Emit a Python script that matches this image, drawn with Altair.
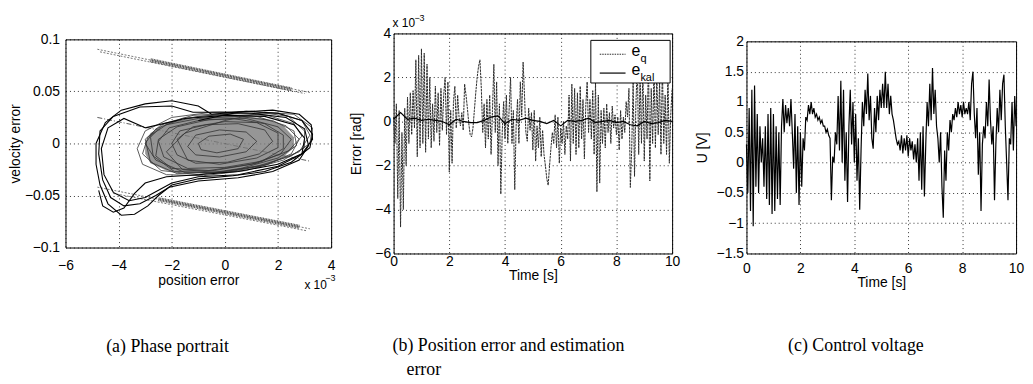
import altair as alt
import pandas as pd

# ---------------- data ----------------
# (a) Phase portrait: position error in units of 1e-3 rad, velocity error in rad/s
OUTER_LOOPS = [
    [(-0.5, 0.028), (-1.0, 0.036), (-2.0, 0.041), (-3.0, 0.038), (-3.9, 0.032), (-4.5, 0.020),
     (-4.85, 0.000), (-4.85, -0.020), (-4.7, -0.040), (-4.4, -0.058), (-3.9, -0.069), (-3.4, -0.068),
     (-2.9, -0.060), (-2.5, -0.050), (-2.0, -0.040), (-1.0, -0.034), (0.3, -0.031), (1.5, -0.027),
     (2.5, -0.018), (3.2, -0.004), (3.3, 0.009), (2.9, 0.022), (2.0, 0.029), (0.8, 0.031), (-0.5, 0.028)],
    [(-1.2, 0.030), (-2.0, 0.036), (-3.2, 0.035), (-4.2, 0.026), (-4.7, 0.012), (-4.75, -0.010),
     (-4.6, -0.035), (-4.3, -0.052), (-3.8, -0.060), (-3.2, -0.058), (-2.6, -0.050), (-2.1, -0.042),
     (-1.0, -0.036), (0.5, -0.033), (1.8, -0.027), (2.8, -0.016), (3.15, -0.002), (3.0, 0.014),
     (2.3, 0.025), (1.0, 0.029), (-0.2, 0.030), (-1.2, 0.030)],
    [(-3.0, 0.015), (-3.8, 0.024), (-4.4, 0.015), (-4.65, -0.005), (-4.55, -0.030), (-4.2, -0.047),
     (-3.6, -0.055), (-3.0, -0.052), (-2.5, -0.045), (-2.0, -0.038), (-1.0, -0.032), (0.5, -0.030),
     (2.0, -0.022), (2.9, -0.010), (3.0, 0.005), (2.6, 0.018), (1.5, 0.026), (0.0, 0.027),
     (-1.5, 0.024), (-3.0, 0.015)],
    [(-1.0, 0.022), (0.5, 0.030), (1.8, 0.032), (2.8, 0.028), (3.25, 0.018), (3.3, 0.004),
     (2.9, -0.010), (2.0, -0.020), (0.5, -0.027), (-1.0, -0.030), (-2.2, -0.032), (-3.0, -0.038),
     (-3.4, -0.048), (-3.8, -0.062), (-4.2, -0.066), (-4.6, -0.060), (-4.75, -0.045)],
]

INNER_LOOPS = [
    [(-3.0, 0.000), (-2.6, 0.014), (-1.6, 0.024), (-0.2, 0.028), (1.2, 0.026), (2.3, 0.017), (2.8, 0.004),
     (2.5, -0.010), (1.5, -0.021), (0.0, -0.028), (-1.5, -0.028), (-2.6, -0.016), (-3.0, 0.000)],
    [(-2.5, 0.002), (-2.1, 0.015), (-1.0, 0.022), (0.3, 0.024), (1.5, 0.019), (2.2, 0.008), (2.2, -0.005),
     (1.4, -0.017), (0.0, -0.023), (-1.4, -0.024), (-2.3, -0.013), (-2.5, 0.002)],
    [(-3.3, -0.005), (-3.0, 0.012), (-2.0, 0.025), (-0.5, 0.030), (1.0, 0.031), (2.4, 0.026), (3.0, 0.012),
     (3.0, -0.004), (2.2, -0.016), (0.8, -0.026), (-0.8, -0.031), (-2.2, -0.030), (-3.1, -0.020), (-3.3, -0.005)],
    [(-2.0, 0.000), (-1.7, 0.012), (-0.7, 0.018), (0.5, 0.019), (1.5, 0.013), (1.8, 0.002), (1.3, -0.010),
     (0.1, -0.018), (-1.1, -0.019), (-1.8, -0.011), (-2.0, 0.000)],
    [(-1.4, -0.003), (-1.1, 0.008), (-0.2, 0.013), (0.8, 0.011), (1.2, 0.002), (0.8, -0.008), (-0.2, -0.013),
     (-1.1, -0.011), (-1.4, -0.003)],
    [(-2.8, 0.006), (-2.3, 0.019), (-1.2, 0.027), (0.2, 0.029), (1.6, 0.027), (2.6, 0.019), (2.9, 0.007),
     (2.4, -0.007), (1.2, -0.019), (-0.4, -0.026), (-1.9, -0.027), (-2.7, -0.012), (-2.8, 0.006)],
    [(-2.2, -0.008), (-1.5, 0.010), (0.0, 0.022), (1.5, 0.030), (2.6, 0.028), (3.3, 0.015), (3.2, 0.000),
     (2.5, -0.012), (1.2, -0.022), (-0.3, -0.028), (-1.6, -0.025), (-2.2, -0.008)],
    [(-3.1, -0.010), (-2.9, 0.006), (-2.2, 0.018), (-1.0, 0.024), (0.5, 0.026), (1.8, 0.022), (2.6, 0.012),
     (2.7, -0.002), (2.0, -0.014), (0.6, -0.024), (-1.0, -0.030), (-2.4, -0.026), (-3.1, -0.010)],
    [(-1.8, 0.004), (-1.2, 0.016), (0.0, 0.021), (1.2, 0.020), (2.0, 0.010), (2.0, -0.004), (1.2, -0.014),
     (-0.2, -0.020), (-1.4, -0.016), (-1.8, 0.004)],
    [(-2.6, -0.012), (-2.5, 0.004), (-1.8, 0.016), (-0.6, 0.023), (0.8, 0.024), (2.0, 0.016), (2.5, 0.004),
     (2.1, -0.010), (1.0, -0.020), (-0.6, -0.026), (-2.0, -0.024), (-2.6, -0.012)],
    [(-1.0, 0.000), (-0.6, 0.007), (0.2, 0.009), (0.7, 0.004), (0.5, -0.005), (-0.3, -0.009), (-0.9, -0.006),
     (-1.0, 0.000)],
    [(-3.0, 0.004), (-2.4, 0.018), (-1.0, 0.026), (0.6, 0.029), (2.0, 0.029), (2.9, 0.022), (3.2, 0.008),
     (2.8, -0.008), (1.6, -0.020), (0.0, -0.027), (-1.8, -0.029), (-2.8, -0.018), (-3.0, 0.004)],
]

# dense core of the trajectory: x, upper and lower edge
CORE_X = [-3.0, -2.8, -2.2, -1.5, -0.5, 0.5, 1.5, 2.2, 2.6]
CORE_HI = [0.000, 0.010, 0.019, 0.023, 0.026, 0.027, 0.024, 0.017, 0.006]
CORE_LO = [-0.010, -0.019, -0.026, -0.028, -0.029, -0.027, -0.021, -0.013, -0.004]

# boundary bands (thick hatched part and thin dotted extensions)
BAND_CORE = [
    [(-2.8, 0.0800), (2.5, 0.0520)],
    [(-2.5, -0.0535), (2.8, -0.0800)],
]
BAND_EDGE = [
    [(-4.8, 0.0905), (3.2, 0.0490)],
    [(-4.7, 0.0880), (3.0, 0.0480)],
    [(-4.8, -0.0420), (3.2, -0.0820)],
    [(-4.2, -0.0480), (3.1, -0.0840)],
]
MID_LINE = [[(-4.8, 0.025), (3.2, -0.017)]]

# (b) position error e_q and estimation error e_kal (units of 1e-3 rad), 0..10 s
EQ = [
    0.2, -1.0, 0.8, -3.5, 0.5, -4.8, -0.5, -4.0, 0.6, -2.0,
    1.1, -1.0, 1.3, -0.6, 1.4, -0.3, 2.8, -1.6, 3.0, -1.2,
    3.3, -1.0, 3.1, -1.4, 2.6, -0.8, 2.0, -1.2, 0.8, -0.9,
    1.6, -0.5, 1.3, -1.1, 1.5, -0.4, 1.2, 2.0, -0.6, 1.8,
    -2.3, 0.5, -1.9, 0.9, 1.6, -0.3, 1.2, 0.2, -0.2, 0.4,
    -0.4, 1.7, 1.2, 0.6, -0.1, -0.6, -0.7, -0.3, 0.5, 1.3,
    2.0, 2.5, 2.8, 1.5, -0.5, 0.8, -1.2, 1.0, -0.8, 1.2,
    -1.5, 0.5, 2.6, -0.5, 1.8, -2.0, 0.8, -3.3, -0.5, 0.9,
    -0.8, 1.2, -1.0, 0.6, 2.0, -1.0, 0.5, -3.1, -0.2, 1.0,
    -1.0, 1.8, 0.2, 2.7, 1.2, -0.5, -0.9, 0.6, -0.4, 0.4,
    -1.3, 0.5, -1.8, -0.2, -1.2, 0.2, -1.6, -0.4, -1.5, -2.0,
    -2.6, -2.9, -2.0, -1.2, -0.5, -1.0, 0.3, -1.2, 0.2, -1.9,
    -0.3, -1.0, 0.0, -1.5, -0.2, -0.8, 1.2, -1.8, 1.7, -1.0,
    1.5, -1.5, 1.3, -1.2, 1.6, -0.8, 1.0, -1.7, 0.7, 1.8,
    -0.5, 1.0, -0.8, 1.4, -1.5, 1.8, -3.2, 1.2, -2.8, 0.5,
    -1.0, 0.6, -1.2, 0.8, -0.5, 0.4, -1.0, 0.7, -0.3, 0.3,
    -0.6, 0.2, -1.3, 0.5, -0.8, 0.2, -0.5, 0.9, 0.2, 1.5,
    -3.0, -1.2, 1.8, -2.5, 0.8, 2.6, -1.5, 2.2, -1.0, 2.5,
    -1.8, 1.2, -0.8, 2.8, -2.7, 1.5, -1.0, 2.5, -1.2, 2.2,
    -0.6, 1.8, -1.5, 2.5, -1.0, 1.2, -1.5, 2.3, -1.9, 0.3,
    1.5,
]
EKAL = [
    0.1, 0.4, 0.1, 0.15, 0.05, 0.1, 0.05, 0.0, -0.15, 0.1,
    0.0, -0.05, -0.05, 0.05, 0.2, 0.25, -0.1, 0.1, 0.05, 0.15,
    0.05, 0.0, -0.1, 0.05, -0.2, 0.05, 0.0, 0.05, 0.15, -0.05,
    0.0, 0.05, -0.05, 0.0, -0.15, -0.2, 0.0, -0.1, -0.05, 0.05,
    0.0,
]

# (c) control voltage U [V], 0..10 s
U = [
    0.3, -0.5, 0.9, -0.8, 1.2, -1.05, 1.27, -0.4, 0.8, -0.5,
    0.6, 0.0, 0.4, -0.4, 0.6, -0.6, 0.8, -0.7, 0.9, -0.85,
    0.8, -0.8, 0.6, -0.6, 0.5, -0.7, 0.6, 1.05, 0.5, 0.95,
    0.65, 0.9, 0.6, 1.05, 0.5, -0.1, 0.8, -0.5, 0.6, -0.7,
    0.5, -0.4, 0.4, 0.2, 0.75, 0.7, 0.95, 0.8, 1.0, 0.8,
    0.9, 0.75, 0.8, 0.7, 0.75, 0.65, 0.7, 0.6, 0.6, 0.5,
    0.55, 0.45, 0.4, -0.62, 0.1, 0.0, 0.5, 0.3, 1.1, 0.2,
    1.35, 0.0, 1.2, -0.3, 0.5, -0.65, 0.6, 1.2, 0.3, 1.0,
    0.0, 0.8, -0.3, 0.4, -0.78, 0.2, 1.0, 0.6, 1.2, 0.8,
    1.47, 0.7, 1.1, 0.4, 0.23, 0.9, 0.5, 1.1, 0.7, 1.2,
    0.9, 1.3, 0.9, 1.5, 0.9, 1.3, 0.8, 1.1, 0.8, 0.7,
    0.55, 0.4, 0.3, 0.35, 0.2, 0.45, 0.15, 0.4, 0.2, 0.45,
    0.1, 0.4, 0.2, 0.35, 0.05, 0.3, 0.0, 0.4, -0.3, 0.5,
    -0.45, 0.6, -0.56, 0.3, 1.0, 0.6, 1.3, 0.7, 1.56, 0.8,
    1.2, 0.6, 0.4, 0.0, 0.5, -0.4, -0.91, 0.2, -0.3, 0.5,
    0.2, 0.7, 0.5, 0.8, 0.7, 0.9, 0.75, 1.0, 0.8, 0.95,
    0.75, 1.0, 0.8, 0.9, 0.8, 1.0, 0.7, 1.3, 1.5, 0.8,
    0.4, 0.9, -0.2, 0.5, -0.8, 0.3, 0.6, 0.4, 1.0, 0.6,
    1.37, 0.7, 0.3, 0.6, -0.62, 0.3, 0.9, 0.5, 1.2, 0.7,
    1.3, 1.45, 0.6, 0.0, -0.62, 0.4, 0.3, 1.0, 0.2, 1.1,
    0.6,
]
T_END = 10.0

CAPTIONS = ["(a) Phase portrait", "(b) Position error and estimation", "error", "(c) Control voltage"]

# ---------------- helpers ----------------
FONT = "Liberation Sans"
SERIF = "Liberation Serif"


def loops_df(loops, prefix):
    rows = []
    for k, pts in enumerate(loops):
        for i, (x, y) in enumerate(pts):
            rows.append({"x": x, "y": y, "id": f"{prefix}{k}", "ord": i})
    return pd.DataFrame(rows)


def series_df(vals):
    n = len(vals)
    return pd.DataFrame({"t": [T_END * i / (n - 1) for i in range(n)], "v": vals})


def text(txt, x, y, size, font=FONT, color="black"):
    return alt.Chart(pd.DataFrame({"txt": [txt]})).mark_text(
        font=font, fontSize=size, align="left", baseline="middle", color=color
    ).encode(x=alt.value(x), y=alt.value(y), text="txt:N")


def spacer(w, h):
    return alt.Chart(pd.DataFrame({"k": [0]})).mark_point(opacity=0, size=1).encode(
        x=alt.value(10), y=alt.value(h / 2)
    ).properties(width=w, height=h, view=alt.ViewBackground(stroke="transparent"))


# ---------------- panel (a) ----------------
WA, HA = 268, 210
A_YAXIS = dict(title="velocity error", values=[-0.1, -0.05, 0, 0.05, 0.1], format="~g",
               labelPadding=6, titlePadding=2)
xa = alt.X("x:Q", scale=alt.Scale(domain=[-6, 4], nice=False),
           axis=alt.Axis(title="position error", values=[-6, -4, -2, 0, 2, 4],
                         labelPadding=11, titlePadding=1))
ya = alt.Y("y:Q", scale=alt.Scale(domain=[-0.1, 0.1], nice=False), axis=alt.Axis(**A_YAXIS))


def a_lines(df, **mk):
    return alt.Chart(df).mark_line(**mk).encode(x=xa, y=ya, detail="id:N", order="ord:Q")


core_df = pd.DataFrame({"x": CORE_X, "hi": CORE_HI, "lo": CORE_LO})
core = alt.Chart(core_df).mark_area(color="#7c7c7c", opacity=0.8).encode(
    x=xa,
    y=alt.Y("hi:Q", scale=alt.Scale(domain=[-0.1, 0.1], nice=False), axis=alt.Axis(**A_YAXIS)),
    y2="lo:Q")

panel_a = alt.layer(
    a_lines(loops_df(BAND_EDGE, "e"), color="#555555", strokeWidth=0.8, strokeDash=[2, 1.5]),
    a_lines(loops_df(BAND_CORE, "c"), color="#555555", strokeWidth=4, strokeDash=[1, 0.6]),
    a_lines(loops_df(MID_LINE, "m"), color="#333333", strokeWidth=0.8, strokeDash=[5, 2, 1, 2]),
    core,
    a_lines(loops_df(INNER_LOOPS, "i"), color="#333333", strokeWidth=0.8),
    a_lines(loops_df(OUTER_LOOPS, "o"), color="black", strokeWidth=1.1),
    text("x 10", 241, 248, 12),
    text("\u22123", 262, 241, 9),
    text(CAPTIONS[0], 41, 310, 18, font=SERIF),
).properties(width=WA, height=HA)

# ---------------- panel (b) ----------------
WB, HB = 281, 222
xb = alt.X("t:Q", scale=alt.Scale(domain=[0, 10], nice=False),
           axis=alt.Axis(title="Time [s]", values=[0, 2, 4, 6, 8, 10], labelPadding=1, titlePadding=0))
yb = alt.Y("v:Q", scale=alt.Scale(domain=[-6, 4], nice=False),
           axis=alt.Axis(title="Error [rad]", values=[-6, -4, -2, 0, 2, 4], labelPadding=3, titlePadding=11))

legend_box = alt.Chart(pd.DataFrame({"k": [0]})).mark_rect(
    fill="white", stroke="black", strokeWidth=1
).encode(x=alt.value(199), x2=alt.value(279), y=alt.value(7), y2=alt.value(50))
leg_q = alt.Chart(pd.DataFrame({"k": [0]})).mark_rule(
    color="#2a2a2a", strokeWidth=1, strokeDash=[1.5, 1]
).encode(x=alt.value(208), x2=alt.value(234), y=alt.value(21))
leg_k = alt.Chart(pd.DataFrame({"k": [0]})).mark_rule(
    color="black", strokeWidth=1.2
).encode(x=alt.value(208), x2=alt.value(234), y=alt.value(40))

panel_b = alt.layer(
    alt.Chart(series_df(EQ)).mark_line(color="#2a2a2a", strokeWidth=1.0, strokeDash=[2.5, 0.8]).encode(x=xb, y=yb),
    alt.Chart(series_df(EKAL)).mark_line(color="black", strokeWidth=1.2).encode(x=xb, y=yb),
    legend_box, leg_q, leg_k,
    text("e", 240, 18, 16), text("q", 249, 26, 11),
    text("e", 240, 37, 16), text("kal", 249, 45, 11),
    text("x 10", -1, -10, 12),
    text("\u22123", 21, -16, 9),
    text(CAPTIONS[1], -1, 315, 18, font=SERIF),
    text(CAPTIONS[2], 13, 340, 18, font=SERIF),
).properties(width=WB, height=HB)

# ---------------- panel (c) ----------------
WC, HC = 272, 214
xc = alt.X("t:Q", scale=alt.Scale(domain=[0, 10], nice=False),
           axis=alt.Axis(title="Time [s]", values=[0, 2, 4, 6, 8, 10], labelPadding=8, titlePadding=0))
yc = alt.Y("v:Q", scale=alt.Scale(domain=[-1.5, 2], nice=False),
           axis=alt.Axis(title="U [V]", values=[-1.5, -1, -0.5, 0, 0.5, 1, 1.5, 2], format="~g",
                         labelPadding=3, titlePadding=7))

panel_c = alt.layer(
    alt.Chart(series_df(U)).mark_line(color="black", strokeWidth=1.2).encode(x=xc, y=yc),
    text(CAPTIONS[3], 42, 307, 18, font=SERIF),
).properties(width=WC, height=HC)

col_a = alt.vconcat(spacer(WA, 20), panel_a, spacing=0)
col_b = alt.vconcat(spacer(WB, 1), panel_b, spacing=0)
col_c = alt.vconcat(spacer(WC, 22), panel_c, spacing=0)

chart = alt.hconcat(col_a, col_b, col_c, spacing=13).properties(
    padding={"left": 0, "top": 0, "right": 0, "bottom": 0}
).configure_axis(
    labelFont=FONT, titleFont=FONT, labelFontSize=14, titleFontSize=14,
    titleFontWeight="normal", labelColor="black", titleColor="black",
    grid=True, gridColor="black", gridDash=[1, 3], gridOpacity=0.8, gridWidth=1,
    ticks=False, domain=False, labelFlush=False, labelOverlap=False,
).configure_view(stroke="black", strokeWidth=1)

chart.save("out.html", embed_options={"renderer": "svg", "actions": False})
